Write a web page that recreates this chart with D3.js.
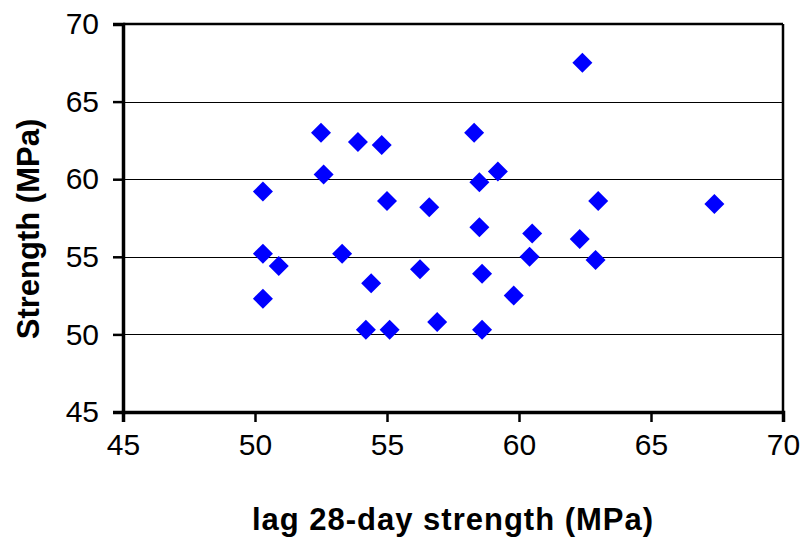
<!DOCTYPE html>
<html>
<head>
<meta charset="utf-8">
<script src="https://cdn.jsdelivr.net/npm/d3@7.9.0/dist/d3.min.js"></script>
<style>
  body { margin: 0; background: #fff; }
  svg { display: block; }
</style>
</head>
<body>
<svg id="chart"></svg>
<script>
// lag 28-day strength (x) vs strength (y), MPa
const lagStrength = [62.4, 52.5, 58.3, 53.9, 54.8, 59.2, 52.6, 58.5, 50.3, 55.0,
                     63.0, 67.4, 56.6, 58.5, 60.5, 62.3, 50.3, 53.3, 60.4, 62.9,
                     50.9, 56.25, 58.6, 54.4, 59.8, 50.3, 56.9, 54.2, 55.1, 58.6];
const strength = [67.5, 63.0, 63.0, 62.4, 62.2, 60.5, 60.3, 59.8, 59.2, 58.6,
                  58.6, 58.4, 58.2, 56.9, 56.5, 56.15, 55.2, 55.2, 55.0, 54.8,
                  54.4, 54.2, 53.9, 53.3, 52.5, 52.3, 50.8, 50.3, 50.3, 50.3];
const xTicks = [45, 50, 55, 60, 65, 70];
const yTicks = [45, 50, 55, 60, 65, 70];
const gridValues = [50, 55, 60, 65];

const svgWidth = 806;
const svgHeight = 542;
const margin = { top: 24, right: 23, bottom: 130, left: 123 };
const width = svgWidth - margin.left - margin.right;
const height = svgHeight - margin.top - margin.bottom;

const svg = d3.select("#chart")
  .attr("width", svgWidth)
  .attr("height", svgHeight);

const data = lagStrength.map((x, i) => ({ x: x, y: strength[i] }));

const xScale = d3.scaleLinear().domain([45, 70]).range([0, width]);
const yScale = d3.scaleLinear().domain([45, 70]).range([height, 0]);

const g = svg.append("g")
  .attr("transform", `translate(${margin.left}, ${margin.top})`);

// horizontal gridlines
g.selectAll("line.grid")
  .data(gridValues)
  .enter()
  .append("line")
  .attr("class", "grid")
  .attr("x1", 0)
  .attr("x2", width)
  .attr("y1", (d) => Math.round(yScale(d)) + 0.5)
  .attr("y2", (d) => Math.round(yScale(d)) + 0.5)
  .attr("stroke", "#000")
  .attr("stroke-width", 1.2);

// top and right borders of the plot area
g.append("line")
  .attr("x1", 0).attr("x2", width)
  .attr("y1", 0).attr("y2", 0)
  .attr("stroke", "#000").attr("stroke-width", 2.5);
g.append("line")
  .attr("x1", width).attr("x2", width)
  .attr("y1", 0).attr("y2", height)
  .attr("stroke", "#000").attr("stroke-width", 2.5);

const xAxis = d3.axisBottom(xScale).tickValues(xTicks).tickSize(10).tickPadding(12);
const yAxis = d3.axisLeft(yScale).tickValues(yTicks).tickSize(10).tickPadding(14);

const xg = g.append("g")
  .attr("transform", `translate(0, ${height})`)
  .call(xAxis);
const yg = g.append("g").call(yAxis);

[xg, yg].forEach((ax) => {
  ax.select(".domain").attr("stroke", "#000").attr("stroke-width", 3.5);
  ax.selectAll(".tick line").attr("stroke", "#000").attr("stroke-width", 2.5);
  ax.selectAll("text")
    .attr("fill", "#000")
    .style("font-family", "'Liberation Sans', Arial, sans-serif")
    .style("font-size", "30px");
});

// markers: blue diamonds
g.selectAll("path.pt")
  .data(data)
  .enter()
  .append("path")
  .attr("class", "pt")
  .attr("d", d3.symbol().type(d3.symbolSquare).size(200))
  .attr("transform", (d) => `translate(${xScale(d.x)}, ${yScale(d.y)}) rotate(45)`)
  .attr("fill", "#0000FF");

// axis titles
svg.append("text")
  .attr("x", margin.left + width / 2)
  .attr("y", 530)
  .attr("text-anchor", "middle")
  .style("font-family", "'Liberation Sans', Arial, sans-serif")
  .style("font-size", "31px")
  .style("font-weight", "bold")
  .style("letter-spacing", "1px")
  .text("lag 28-day strength (MPa)");

svg.append("text")
  .attr("transform", "rotate(-90)")
  .attr("x", -229)
  .attr("y", 39)
  .attr("text-anchor", "middle")
  .style("font-family", "'Liberation Sans', Arial, sans-serif")
  .style("font-size", "31px")
  .style("font-weight", "bold")
  .text("Strength (MPa)");
</script>
</body>
</html>
